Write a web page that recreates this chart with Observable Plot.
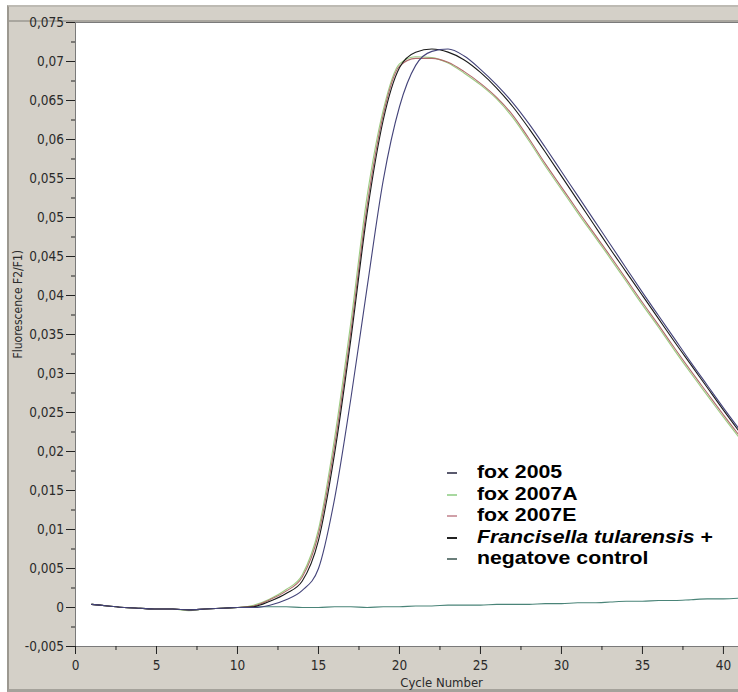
<!DOCTYPE html>
<html><head><meta charset="utf-8">
<script src="https://cdn.jsdelivr.net/npm/d3@7"></script>
<script src="https://cdn.jsdelivr.net/npm/@observablehq/plot@0.6"></script>
<style>
body{margin:0;background:#fff;}
#wrap{position:relative;width:738px;height:692px;overflow:hidden;background:#fff;}
#panel{position:absolute;left:7px;top:5px;right:0;bottom:0;box-sizing:border-box;background:#d4d0c8;border-left:2px solid #9c9890;border-top:2px solid #bdbab3;border-bottom:3px solid #a5a29b;}
#topline{position:absolute;left:9px;right:0;top:20px;height:2px;background:#a9a69f;}
#chart{position:absolute;left:0;top:0;}
#title{position:absolute;left:199px;top:-44px;font:bold 40px 'Liberation Sans',Arial,sans-serif;line-height:40px;color:#2a2ad0;}
#legend{position:absolute;left:447px;top:461px;font:bold 18.5px 'Liberation Sans',Arial,sans-serif;color:#000;}
#legend .row{height:21.5px;line-height:21.5px;white-space:nowrap;position:relative;}
#legend .sw{position:absolute;left:0;top:11px;width:10px;height:2px;}
#legend .lab{display:inline-block;margin-left:30px;transform:scaleX(1.15);transform-origin:left center;}
</style></head>
<body>
<div id="wrap"><div id="title">g</div><div id="panel"></div><div id="topline"></div><div id="chart"></div><div id="legend"></div></div>
<script>
const cycles = [1,2,3,4,5,6,7,8,9,10,11,12,13,14,15,16,17,18,19,20,21,22,23,24,25,26,27,28,29,30,31,32,33,34,35,36,37,38,39,40,41];
const seriesNames = ["fox 2005","fox 2007A","fox 2007E","Francisella tularensis +","negatove control"];
const lineColors = ["#44447a","#9ccc82","#b06a6a","#1a1a1a","#4a8478"];
const swatchColors = ["#5a5a6e","#a8d8a0","#d0a0a8","#222222","#6a7e7a"];
const fox2005 = [0.0004,0.0002,0.0000,-0.0001,-0.0002,-0.0002,-0.0003,-0.0002,-0.0001,0.0000,0.0000,0.0003,0.0010,0.0022,0.0050,0.0140,0.0268,0.0410,0.0548,0.0642,0.0695,0.0713,0.0716,0.0707,0.0690,0.0670,0.0647,0.0620,0.0590,0.0559,0.0528,0.0497,0.0466,0.0435,0.0404,0.0374,0.0344,0.0314,0.0285,0.0256,0.0228];
const fox2007A = [0.0004,0.0002,0.0000,-0.0001,-0.0002,-0.0002,-0.0004,-0.0002,-0.0001,0.0000,0.0003,0.0011,0.0023,0.0042,0.0100,0.0218,0.0366,0.0527,0.0638,0.0697,0.0706,0.0705,0.0698,0.0685,0.0670,0.0652,0.0628,0.0598,0.0566,0.0536,0.0506,0.0477,0.0448,0.0418,0.0388,0.0359,0.0329,0.0300,0.0272,0.0244,0.0217];
const fox2007E = [0.0004,0.0002,0.0000,-0.0001,-0.0002,-0.0002,-0.0003,-0.0002,-0.0001,0.0000,0.0002,0.0010,0.0021,0.0039,0.0094,0.0208,0.0354,0.0515,0.0632,0.0694,0.0704,0.0704,0.0699,0.0687,0.0672,0.0654,0.0631,0.0601,0.0569,0.0539,0.0509,0.0480,0.0451,0.0421,0.0391,0.0362,0.0332,0.0303,0.0275,0.0247,0.0220];
const francisella = [0.0004,0.0002,0.0000,-0.0001,-0.0002,-0.0002,-0.0003,-0.0002,-0.0001,0.0000,0.0001,0.0008,0.0018,0.0034,0.0086,0.0198,0.0344,0.0505,0.0625,0.0692,0.0712,0.0716,0.0712,0.0702,0.0686,0.0666,0.0642,0.0614,0.0584,0.0553,0.0522,0.0491,0.0460,0.0430,0.0400,0.0370,0.0340,0.0311,0.0282,0.0253,0.0225];
const negControl = [0.0004,0.0002,0.0000,-0.0001,-0.0002,-0.0002,-0.0003,-0.0002,-0.0001,0.0000,0.0001,0.0001,0.0001,0.0000,0.0000,0.0001,0.0001,0.0000,0.0001,0.0001,0.0002,0.0002,0.0003,0.0003,0.0003,0.0004,0.0004,0.0004,0.0005,0.0005,0.0006,0.0006,0.0007,0.0008,0.0008,0.0009,0.0009,0.0010,0.0011,0.0011,0.0012];
const yTicks = [-0.005,0,0.005,0.01,0.015,0.02,0.025,0.03,0.035,0.04,0.045,0.05,0.055,0.06,0.065,0.07,0.075];
const yMinor = [-0.0025,0.0025,0.0075,0.0125,0.0175,0.0225,0.0275,0.0325,0.0375,0.0425,0.0475,0.0525,0.0575,0.0625,0.0675,0.0725];
const xTicks = [0,5,10,15,20,25,30,35,40];
const xMinor = [2.5,7.5,12.5,17.5,22.5,27.5,32.5,37.5];

const allSeries = [fox2005, fox2007A, fox2007E, francisella, negControl];
const drawOrder = [4,1,2,3,0];
const rows = [];
for (const si of drawOrder) {
  allSeries[si].forEach((v,i) => rows.push({cycle: cycles[i], value: v, series: seriesNames[si], color: lineColors[si]}));
}
const fmt = d => d === 0 ? "0" : String(+d.toFixed(4)).replace(".", ",");
const font = "'Liberation Sans Narrow','DejaVu Sans Condensed',Arial,sans-serif";

const chart = Plot.plot({
  width: 738, height: 692,
  marginLeft: 75, marginTop: 22, marginBottom: 46, marginRight: 0,
  x: {domain: [0, 40.93]},
  y: {domain: [-0.005, 0.075]},
  style: {background: "transparent", fontFamily: font, color: "#222"},
  marks: [
    Plot.frame({fill: "white", stroke: "#7a7a7a"}),
    Plot.line(rows, {x: "cycle", y: "value", z: "series", stroke: "color", strokeWidth: 1.1, curve: "monotone-x", clip: true}),
    Plot.axisY(yTicks, {tickSize: 9, tickPadding: 2.5, tickFormat: fmt, fontSize: 13.5, fill: "#2a2a2a", label: null}),
    Plot.axisY(yMinor, {tickSize: 4, tickFormat: () => "", label: null}),
    Plot.axisX(xTicks, {tickSize: 8, tickPadding: 6, fontSize: 13.5, fill: "#2a2a2a", label: null}),
    Plot.axisX(xMinor, {tickSize: 4, tickFormat: () => "", label: null}),
    Plot.text(["Fluorescence F2/F1)"], {frameAnchor: "left", rotate: -90, dx: -57, dy: 24, fontSize: 12, fill: "#2a2a2a"}),
    Plot.text(["Cycle Number"], {x: [22.6], frameAnchor: "bottom", dy: 40, fontSize: 13, fill: "#2a2a2a"})
  ]
});
document.getElementById("chart").appendChild(chart);

const legend = document.getElementById("legend");
seriesNames.forEach((name, i) => {
  const row = document.createElement("div");
  row.className = "row";
  const sw = document.createElement("span");
  sw.className = "sw"; sw.style.background = swatchColors[i];
  const lab = document.createElement("span");
  lab.className = "lab";
  if (name.startsWith("Francisella")) {
    const it = document.createElement("i");
    it.textContent = "Francisella tularensis";
    lab.appendChild(it);
    lab.appendChild(document.createTextNode(" +"));
  } else lab.textContent = name;
  row.appendChild(sw); row.appendChild(lab);
  legend.appendChild(row);
});
</script>
</body></html>
